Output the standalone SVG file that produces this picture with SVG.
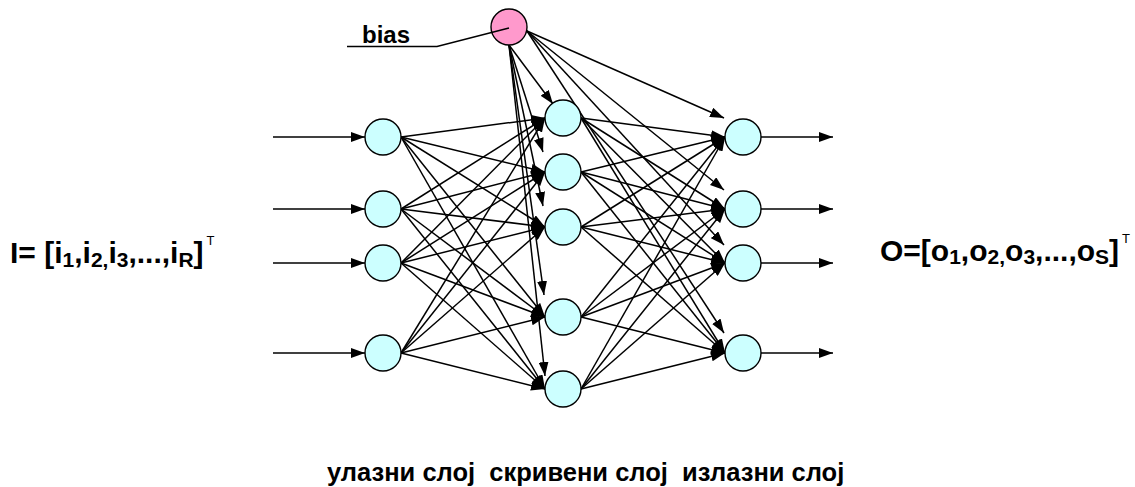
<svg xmlns="http://www.w3.org/2000/svg" width="1135" height="487" viewBox="0 0 1135 487">
  <style>
    .edge { stroke: #000; stroke-width: 1.5; fill: none; marker-end: url(#arrow); }
    .neuron { fill: #ccffff; stroke: #000; stroke-width: 1.4; }
    .bias { fill: #ff99cc; stroke: #000; stroke-width: 1.4; }
    .lbl { font-family: "Liberation Sans", Arial, sans-serif; font-weight: bold; fill: #000; }
    .sub { font-size: 21px; }
    .sup { font-size: 13px; font-weight: normal; }
  </style>
  <defs>
    <marker id="arrow" viewBox="0 0 14 10" refX="14" refY="5" markerWidth="14" markerHeight="10" markerUnits="userSpaceOnUse" orient="auto">
      <path d="M0,0 L14,5 L0,10 z" fill="#000"/>
    </marker>
  </defs>

  <g id="connectors">
    <!-- external inputs -->
    <line class="edge" x1="273" y1="137" x2="365" y2="137"/>
    <line class="edge" x1="273" y1="209" x2="365" y2="209"/>
    <line class="edge" x1="273" y1="263" x2="365" y2="263"/>
    <line class="edge" x1="273" y1="353" x2="365" y2="353"/>
    <!-- input layer to hidden layer -->
    <line class="edge" x1="401" y1="137" x2="545" y2="118"/>
    <line class="edge" x1="401" y1="137" x2="545" y2="172"/>
    <line class="edge" x1="401" y1="137" x2="545" y2="227"/>
    <line class="edge" x1="401" y1="137" x2="545" y2="317"/>
    <line class="edge" x1="401" y1="137" x2="545" y2="389"/>
    <line class="edge" x1="401" y1="209" x2="545" y2="118"/>
    <line class="edge" x1="401" y1="209" x2="545" y2="172"/>
    <line class="edge" x1="401" y1="209" x2="545" y2="227"/>
    <line class="edge" x1="401" y1="209" x2="545" y2="317"/>
    <line class="edge" x1="401" y1="209" x2="545" y2="389"/>
    <line class="edge" x1="401" y1="263" x2="545" y2="118"/>
    <line class="edge" x1="401" y1="263" x2="545" y2="172"/>
    <line class="edge" x1="401" y1="263" x2="545" y2="227"/>
    <line class="edge" x1="401" y1="263" x2="545" y2="317"/>
    <line class="edge" x1="401" y1="263" x2="545" y2="389"/>
    <line class="edge" x1="401" y1="353" x2="545" y2="118"/>
    <line class="edge" x1="401" y1="353" x2="545" y2="172"/>
    <line class="edge" x1="401" y1="353" x2="545" y2="227"/>
    <line class="edge" x1="401" y1="353" x2="545" y2="317"/>
    <line class="edge" x1="401" y1="353" x2="545" y2="389"/>
    <!-- hidden layer to output layer -->
    <line class="edge" x1="581" y1="118" x2="725" y2="137"/>
    <line class="edge" x1="581" y1="118" x2="725" y2="209"/>
    <line class="edge" x1="581" y1="118" x2="725" y2="263"/>
    <line class="edge" x1="581" y1="118" x2="725" y2="353"/>
    <line class="edge" x1="581" y1="172" x2="725" y2="137"/>
    <line class="edge" x1="581" y1="172" x2="725" y2="209"/>
    <line class="edge" x1="581" y1="172" x2="725" y2="263"/>
    <line class="edge" x1="581" y1="172" x2="725" y2="353"/>
    <line class="edge" x1="581" y1="227" x2="725" y2="137"/>
    <line class="edge" x1="581" y1="227" x2="725" y2="209"/>
    <line class="edge" x1="581" y1="227" x2="725" y2="263"/>
    <line class="edge" x1="581" y1="227" x2="725" y2="353"/>
    <line class="edge" x1="581" y1="317" x2="725" y2="137"/>
    <line class="edge" x1="581" y1="317" x2="725" y2="209"/>
    <line class="edge" x1="581" y1="317" x2="725" y2="263"/>
    <line class="edge" x1="581" y1="317" x2="725" y2="353"/>
    <line class="edge" x1="581" y1="389" x2="725" y2="137"/>
    <line class="edge" x1="581" y1="389" x2="725" y2="209"/>
    <line class="edge" x1="581" y1="389" x2="725" y2="263"/>
    <line class="edge" x1="581" y1="389" x2="725" y2="353"/>
    <!-- bias to hidden layer -->
    <line class="edge" x1="509" y1="45" x2="553" y2="104"/>
    <line class="edge" x1="509" y1="45" x2="543" y2="152"/>
    <line class="edge" x1="509" y1="45" x2="543" y2="206"/>
    <line class="edge" x1="509" y1="45" x2="544" y2="295"/>
    <line class="edge" x1="509" y1="45" x2="545" y2="376"/>
    <!-- bias to output layer -->
    <line class="edge" x1="527" y1="31" x2="724" y2="118"/>
    <line class="edge" x1="527" y1="31" x2="724" y2="190"/>
    <line class="edge" x1="527" y1="31" x2="724" y2="245"/>
    <line class="edge" x1="527" y1="31" x2="724" y2="333"/>
    <!-- network outputs -->
    <line class="edge" x1="761" y1="137" x2="833" y2="137"/>
    <line class="edge" x1="761" y1="209" x2="833" y2="209"/>
    <line class="edge" x1="761" y1="263" x2="833" y2="263"/>
    <line class="edge" x1="761" y1="353" x2="833" y2="353"/>
  </g>

  <g id="input-layer">
    <circle id="in1" class="neuron" cx="383" cy="137" r="18"/>
    <circle id="in2" class="neuron" cx="383" cy="209" r="18"/>
    <circle id="in3" class="neuron" cx="383" cy="263" r="18"/>
    <circle id="in4" class="neuron" cx="383" cy="353" r="18"/>
  </g>
  <g id="hidden-layer">
    <circle id="h1" class="neuron" cx="563" cy="118" r="18"/>
    <circle id="h2" class="neuron" cx="563" cy="172" r="18"/>
    <circle id="h3" class="neuron" cx="563" cy="227" r="18"/>
    <circle id="h4" class="neuron" cx="563" cy="317" r="18"/>
    <circle id="h5" class="neuron" cx="563" cy="389" r="18"/>
  </g>
  <g id="output-layer">
    <circle id="out1" class="neuron" cx="743" cy="137" r="18"/>
    <circle id="out2" class="neuron" cx="743" cy="209" r="18"/>
    <circle id="out3" class="neuron" cx="743" cy="263" r="18"/>
    <circle id="out4" class="neuron" cx="743" cy="353" r="18"/>
  </g>

  <g id="bias-node">
    <circle class="bias" cx="509" cy="27" r="18"/>
    <polyline points="347,46.5 437,46.5 509,28" fill="none" stroke="#000" stroke-width="1.5"/>
    <text class="lbl" x="362" y="43" font-size="24">bias</text>
  </g>

  <g id="input-vector">
    <text class="lbl" x="10" y="263" font-size="30">I= [i<tspan class="sub" dy="4">1</tspan><tspan dy="-4">,i</tspan><tspan class="sub" dy="4">2,</tspan><tspan dy="-4">i</tspan><tspan class="sub" dy="4">3</tspan><tspan dy="-4">,...,i</tspan><tspan class="sub" dy="4">R</tspan><tspan dy="-4">]</tspan><tspan class="sup" dx="3" dy="-18">T</tspan></text>
  </g>

  <g id="output-vector">
    <text class="lbl" x="880" y="261" font-size="30">O=[o<tspan class="sub" dy="3">1</tspan><tspan dy="-3">,o</tspan><tspan class="sub" dy="3">2,</tspan><tspan dy="-3">o</tspan><tspan class="sub" dy="3">3</tspan><tspan dy="-3">,...,o</tspan><tspan class="sub" dy="3">S</tspan><tspan dy="-3">]</tspan><tspan class="sup" dx="3" dy="-18">T</tspan></text>
  </g>

  <g id="layer-captions">
    <text class="lbl" x="327" y="481" font-size="25.5" xml:space="preserve">улазни слој  скривени слој  излазни слој</text>
  </g>
</svg>
